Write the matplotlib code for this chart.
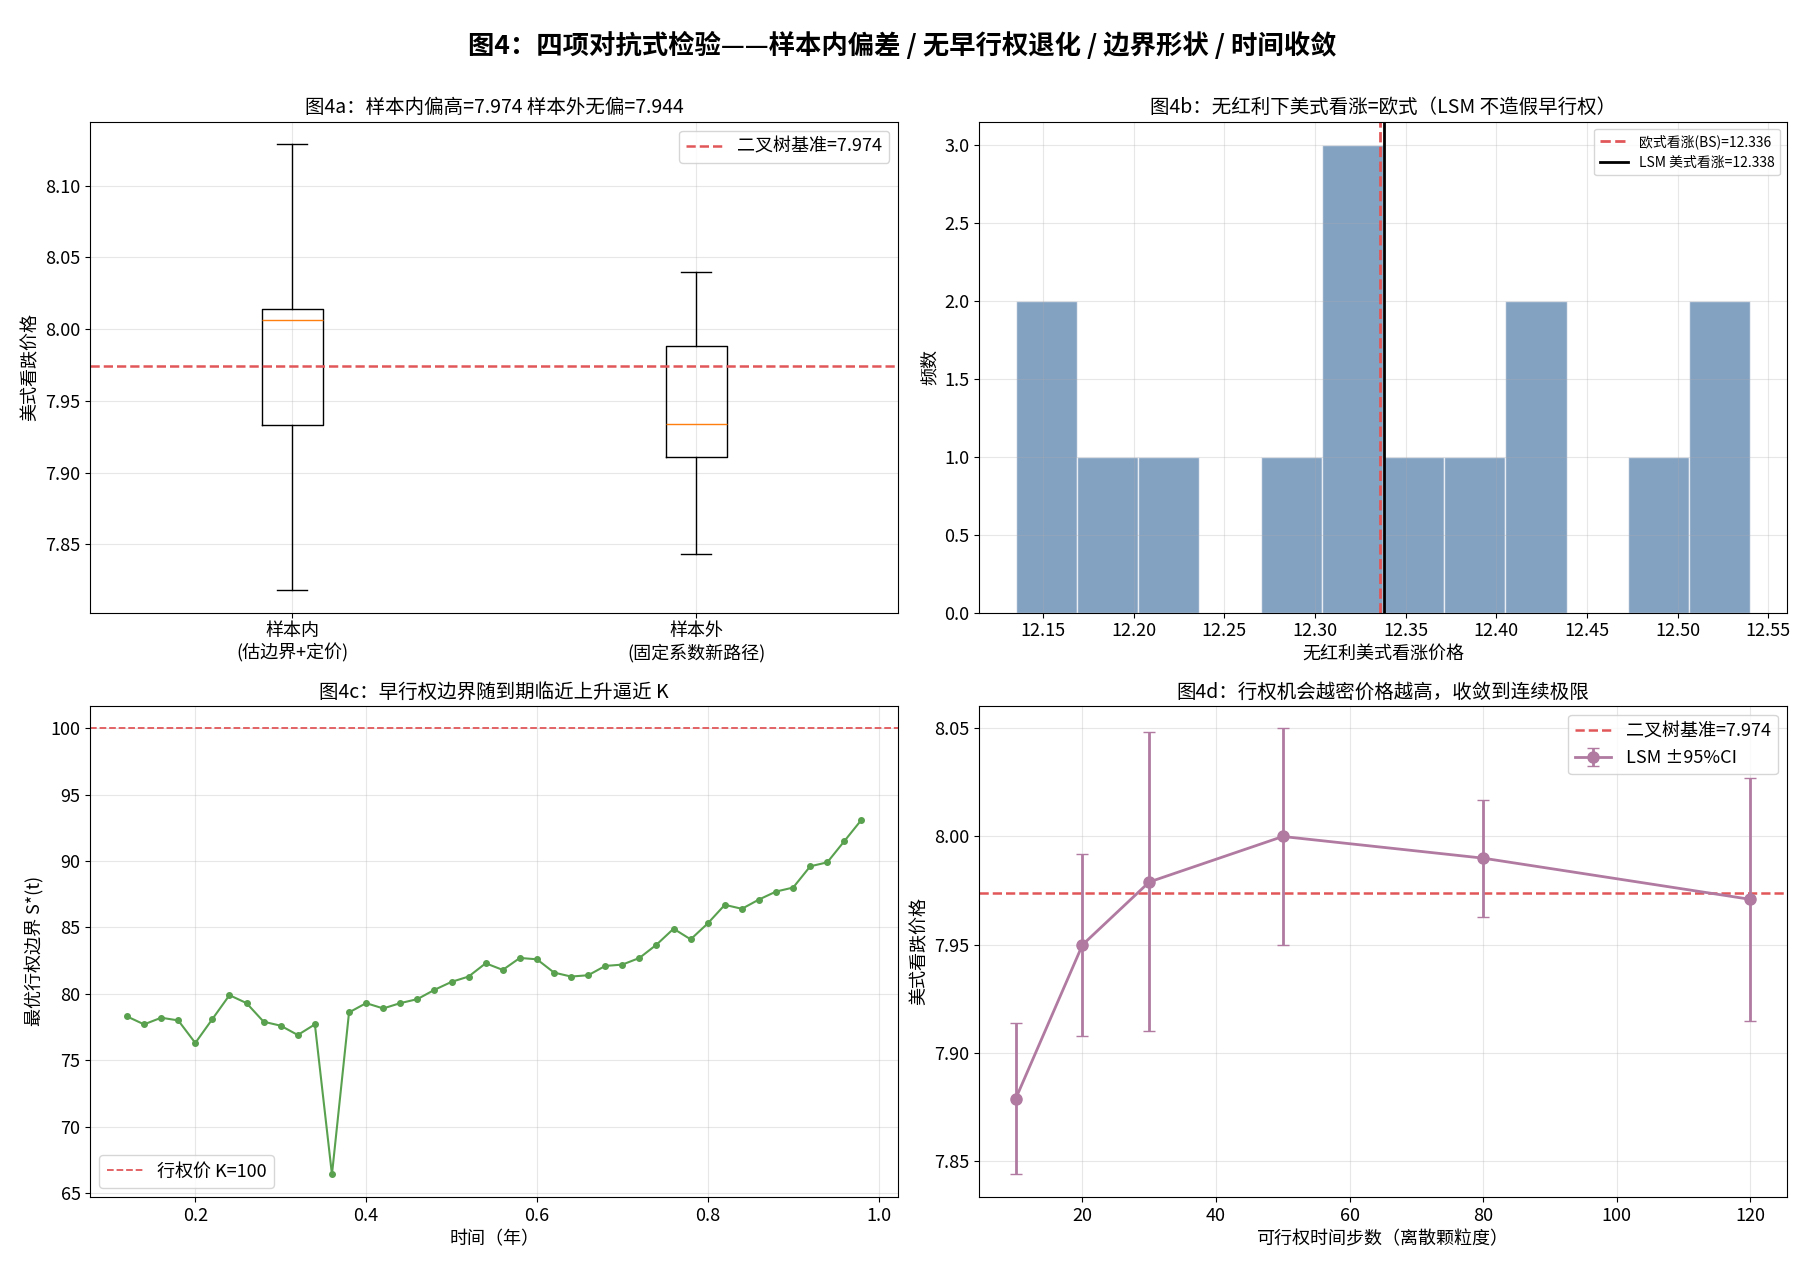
import matplotlib
matplotlib.use("Agg")
import matplotlib.pyplot as plt

plt.rcParams["font.family"] = ["Noto Sans CJK SC", "DejaVu Sans"]
plt.rcParams["axes.unicode_minus"] = False

# 图4a 箱线统计
box_labels = ["样本内\n(估边界+定价)", "样本外\n(固定系数新路径)"]
box_whislo = [7.818, 7.843]
box_q1 = [7.933, 7.911]
box_med = [8.006, 7.934]
box_q3 = [8.014, 7.988]
box_whishi = [8.129, 8.040]
tree_price = 7.974

# 图4b 无红利美式看涨价格样本
call_prices = [12.135, 12.16, 12.185, 12.22, 12.29, 12.31, 12.32, 12.33,
               12.35, 12.39, 12.415, 12.43, 12.49, 12.52, 12.540]
bs_call = 12.336
lsm_call = 12.338

# 图4c 最优行权边界
t_grid = [0.12, 0.14, 0.16, 0.18, 0.20, 0.22, 0.24, 0.26, 0.28, 0.30, 0.32,
          0.34, 0.36, 0.38, 0.40, 0.42, 0.44, 0.46, 0.48, 0.50, 0.52, 0.54,
          0.56, 0.58, 0.60, 0.62, 0.64, 0.66, 0.68, 0.70, 0.72, 0.74, 0.76,
          0.78, 0.80, 0.82, 0.84, 0.86, 0.88, 0.90, 0.92, 0.94, 0.96, 0.98]
boundary = [78.3, 77.7, 78.2, 78.0, 76.3, 78.1, 79.9, 79.3, 77.9, 77.6, 76.9,
            77.7, 66.4, 78.6, 79.3, 78.9, 79.3, 79.6, 80.3, 80.9, 81.3, 82.3,
            81.8, 82.7, 82.6, 81.6, 81.3, 81.4, 82.1, 82.2, 82.7, 83.7, 84.9,
            84.1, 85.3, 86.7, 86.4, 87.1, 87.7, 88.0, 89.6, 89.9, 91.5, 93.1]
strike = 100

# 图4d 时间收敛
steps = [10, 20, 30, 50, 80, 120]
lsm_price = [7.879, 7.950, 7.979, 8.000, 7.990, 7.971]
ci95 = [0.035, 0.042, 0.069, 0.050, 0.027, 0.056]

red = "#e15759"
fig, axes = plt.subplots(2, 2, figsize=(18.05, 12.8), dpi=100)
fig.subplots_adjust(top=0.905, bottom=0.065, left=0.05, right=0.99, hspace=0.19, wspace=0.1)
fig.suptitle("图4：四项对抗式检验——样本内偏差 / 无早行权退化 / 边界形状 / 时间收敛",
             fontsize=19, fontweight="bold", y=0.975)

# --- a ---
ax = axes[0, 0]
stats = [dict(label=box_labels[i], whislo=box_whislo[i], q1=box_q1[i], med=box_med[i],
              q3=box_q3[i], whishi=box_whishi[i], fliers=[]) for i in range(2)]
ax.bxp(stats, showfliers=False,
       medianprops=dict(color="#ff7f0e"))
ax.axhline(tree_price, color=red, linestyle="--", linewidth=1.8, label=f"二叉树基准={tree_price:.3f}")
ax.set_ylabel("美式看跌价格", fontsize=13)
ax.set_title(f"图4a：样本内偏高={box_med[0] - 0.032:.3f} 样本外无偏=7.944", fontsize=14)
ax.set_title("图4a：样本内偏高=7.974 样本外无偏=7.944", fontsize=14)
ax.legend(loc="upper right", fontsize=13)
ax.grid(True, alpha=0.3)
ax.tick_params(labelsize=13)

# --- b ---
ax = axes[0, 1]
ax.hist(call_prices, bins=12, color="#4e79a7", alpha=0.7, edgecolor="white")
ax.axvline(bs_call, color=red, linestyle="--", linewidth=2, label=f"欧式看涨(BS)={bs_call:.3f}")
ax.axvline(lsm_call, color="black", linewidth=2, label=f"LSM 美式看涨={lsm_call:.3f}")
ax.set_xlabel("无红利美式看涨价格", fontsize=13)
ax.set_ylabel("频数", fontsize=13)
ax.set_title("图4b：无红利下美式看涨=欧式（LSM 不造假早行权）", fontsize=14)
ax.legend(loc="upper right", fontsize=10)
ax.grid(True, alpha=0.3)
ax.tick_params(labelsize=13)

# --- c ---
ax = axes[1, 0]
ax.plot(t_grid, boundary, "o-", color="#59a14f", markersize=4, linewidth=1.5)
ax.axhline(strike, color=red, linestyle="--", linewidth=1.3, label=f"行权价 K={strike}")
ax.set_xlabel("时间（年）", fontsize=13)
ax.set_ylabel("最优行权边界 S*(t)", fontsize=13)
ax.set_title("图4c：早行权边界随到期临近上升逼近 K", fontsize=14)
ax.legend(loc="lower left", fontsize=13)
ax.grid(True, alpha=0.3)
ax.tick_params(labelsize=13)

# --- d ---
ax = axes[1, 1]
ax.axhline(tree_price, color=red, linestyle="--", linewidth=1.8, label=f"二叉树基准={tree_price:.3f}")
ax.errorbar(steps, lsm_price, yerr=ci95, fmt="o-", color="#b07aa1", capsize=4,
            markersize=8, linewidth=2, label="LSM ±95%CI")
ax.set_xlabel("可行权时间步数（离散颗粒度）", fontsize=13)
ax.set_ylabel("美式看跌价格", fontsize=13)
ax.set_title("图4d：行权机会越密价格越高，收敛到连续极限", fontsize=14)
ax.legend(loc="upper right", fontsize=13)
ax.grid(True, alpha=0.3)
ax.tick_params(labelsize=13)

fig.savefig("out.png", dpi=100)
